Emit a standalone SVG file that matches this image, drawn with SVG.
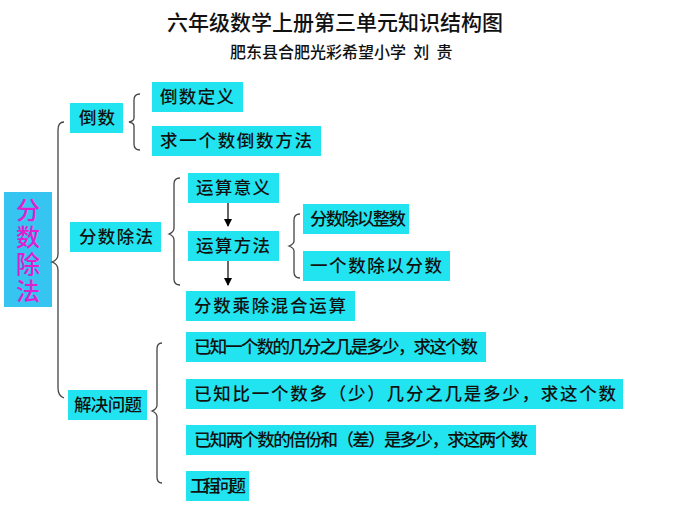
<svg xmlns="http://www.w3.org/2000/svg" width="700" height="524" viewBox="0 0 700 524">
<style>
.b{fill:#22e4f0}
.t{font-family:"Noto Sans CJK SC","Liberation Sans",sans-serif;font-size:17.5px;fill:#111;font-weight:500}
.c{fill:none;stroke:#444;stroke-width:1.3}
</style>
<defs><marker id="a" markerWidth="8" markerHeight="8" refX="7" refY="4" orient="auto" markerUnits="userSpaceOnUse"><path d="M0,0L8,4L0,8z" fill="#000"/></marker></defs>
<rect width="700" height="524" fill="#fff"/>
<text x="335" y="30" text-anchor="middle" class="t" style="font-size:21px">六年级数学上册第三单元知识结构图</text>
<text x="230" y="58" class="t" style="font-size:16px" xml:space="preserve">肥东县合肥光彩希望小学  刘  贵</text>
<g id="root"><rect x="4" y="192" width="48" height="115" fill="#35c5f0"/>
<text x="28" y="219" text-anchor="middle" class="t" style="font-size:24px;fill:#e020d0">分</text>
<text x="28" y="246" text-anchor="middle" class="t" style="font-size:24px;fill:#e020d0">数</text>
<text x="28" y="273" text-anchor="middle" class="t" style="font-size:24px;fill:#e020d0">除</text>
<text x="28" y="300" text-anchor="middle" class="t" style="font-size:24px;fill:#e020d0">法</text></g>
<g id="connectors">
<path class="c" d="M64,122 Q58,122 58,130 L58,254 Q58,260 52,262 Q58,264 58,270 L58,388 Q58,396 64,398"/>
<path class="c" d="M140,94 Q134,94 134,100 L134,118 Q134,121 129,122 Q134,123 134,126 L134,144 Q134,150 140,150"/>
<path class="c" d="M180,178 Q174,178 174,184 L174,228 Q174,232 169,234 Q174,236 174,240 L174,279 Q174,285 180,285"/>
<path class="c" d="M300,214 Q294,214 294,220 L294,241 Q294,244 289,246 Q294,248 294,251 L294,272 Q294,278 300,278"/>
<path class="c" d="M162,343 Q157,343 157,349 L157,405 Q157,409 152,411 Q157,413 157,417 L157,477 Q157,483 162,483"/>
<line x1="228" y1="203" x2="228" y2="226" stroke="#000" stroke-width="1.2" marker-end="url(#a)"/>
<line x1="228" y1="261" x2="228" y2="285" stroke="#000" stroke-width="1.2" marker-end="url(#a)"/>
</g>
<g id="n1"><rect class="b" x="70" y="103" width="53" height="30"/><text class="t" x="79" y="124" textLength="36">倒数</text></g>
<g id="n2"><rect class="b" x="152" y="82" width="91" height="30"/><text class="t" x="160" y="103" textLength="74">倒数定义</text></g>
<g id="n3"><rect class="b" x="152" y="126" width="169" height="30"/><text class="t" x="160" y="147" textLength="152">求一个数倒数方法</text></g>
<g id="n4"><rect class="b" x="70" y="222" width="91" height="30"/><text class="t" x="79" y="243" textLength="74">分数除法</text></g>
<g id="n5"><rect class="b" x="188" y="173" width="91" height="30"/><text class="t" x="196" y="194" textLength="74">运算意义</text></g>
<g id="n6"><rect class="b" x="188" y="231" width="91" height="30"/><text class="t" x="196" y="252" textLength="74">运算方法</text></g>
<g id="n7"><rect class="b" x="303" y="204" width="106" height="30"/><text class="t" x="310" y="225" textLength="96">分数除以整数</text></g>
<g id="n8"><rect class="b" x="303" y="251" width="147" height="30"/><text class="t" x="310" y="272" textLength="132">一个数除以分数</text></g>
<g id="n9"><rect class="b" x="186" y="291" width="169" height="30"/><text class="t" x="194" y="312" textLength="152">分数乘除混合运算</text></g>
<g id="n10"><rect class="b" x="68" y="390" width="79" height="30"/><text class="t" x="74" y="411" textLength="68">解决问题</text></g>
<g id="n11"><rect class="b" x="186" y="332" width="300" height="30"/><text class="t" x="194" y="353" textLength="284">已知一个数的几分之几是多少，求这个数</text></g>
<g id="n12"><rect class="b" x="186" y="379" width="437" height="30"/><text class="t" x="194" y="400" textLength="422">已知比一个数多（少）几分之几是多少，求这个数</text></g>
<g id="n13"><rect class="b" x="186" y="425" width="350" height="30"/><text class="t" x="194" y="446" textLength="334">已知两个数的倍份和（差）是多少，求这两个数</text></g>
<g id="n14"><rect class="b" x="186" y="471" width="63" height="30"/><text class="t" x="190" y="492" textLength="56">工程问题</text></g>
</svg>
